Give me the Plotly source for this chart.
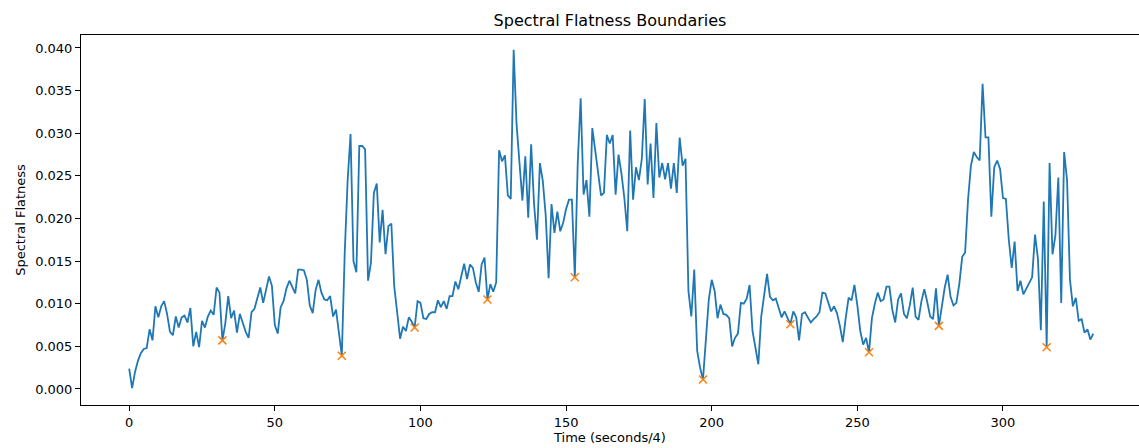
import plotly.graph_objects as go

flatness = [
    0.0024, 0.0001, 0.0020, 0.0033, 0.0042, 0.0047, 0.0048, 0.0070, 0.0057, 0.0097,
    0.0084, 0.0097, 0.0103, 0.0088, 0.0067, 0.0063, 0.0085, 0.0072, 0.0084, 0.0086,
    0.0078, 0.0095, 0.0050, 0.0067, 0.0049, 0.0080, 0.0072, 0.0085, 0.0092, 0.0087,
    0.0119, 0.0113, 0.0057, 0.0077, 0.0109, 0.0083, 0.0092, 0.0066, 0.0088, 0.0076,
    0.0067, 0.0060, 0.0090, 0.0094, 0.0108, 0.0119, 0.0101, 0.0116, 0.0132, 0.0121,
    0.0075, 0.0065, 0.0096, 0.0103, 0.0118, 0.0127, 0.0120, 0.0112, 0.0140, 0.0140,
    0.0139, 0.0128, 0.0098, 0.0089, 0.0116, 0.0128, 0.0113, 0.0105, 0.0104, 0.0109,
    0.0085, 0.0093, 0.0066, 0.0039, 0.0160, 0.0245, 0.0299, 0.0150, 0.0137, 0.0285,
    0.0285, 0.0281, 0.0127, 0.0148, 0.0230, 0.0241, 0.0172, 0.0210, 0.0158, 0.0191,
    0.0194, 0.0120, 0.0090, 0.0059, 0.0073, 0.0068, 0.0084, 0.0079, 0.0072, 0.0103,
    0.0101, 0.0083, 0.0082, 0.0088, 0.0090, 0.0090, 0.0104, 0.0096, 0.0103, 0.0094,
    0.0109, 0.0109, 0.0126, 0.0117, 0.0132, 0.0147, 0.0129, 0.0146, 0.0142, 0.0125,
    0.0114, 0.0146, 0.0154, 0.0105, 0.0123, 0.0114, 0.0125, 0.0280, 0.0267, 0.0274,
    0.0227, 0.0223, 0.0398, 0.0310, 0.0265, 0.0221, 0.0273, 0.0201, 0.0287, 0.0217,
    0.0175, 0.0265, 0.0244, 0.0204, 0.0130, 0.0217, 0.0183, 0.0208, 0.0185, 0.0195,
    0.0211, 0.0222, 0.0222, 0.0131, 0.0265, 0.0341, 0.0228, 0.0245, 0.0202, 0.0306,
    0.0280, 0.0256, 0.0227, 0.0230, 0.0298, 0.0288, 0.0298, 0.0228, 0.0275, 0.0253,
    0.0224, 0.0185, 0.0303, 0.0222, 0.0260, 0.0245, 0.0270, 0.0340, 0.0240, 0.0288,
    0.0224, 0.0312, 0.0248, 0.0265, 0.0246, 0.0265, 0.0235, 0.0265, 0.0230, 0.0295,
    0.0262, 0.0270, 0.0115, 0.0085, 0.0140, 0.0045, 0.0025, 0.0011, 0.0055, 0.0105,
    0.0128, 0.0115, 0.0083, 0.0099, 0.0088, 0.0087, 0.0083, 0.0050, 0.0060, 0.0065,
    0.0101, 0.0100, 0.0106, 0.0122, 0.0068, 0.0050, 0.0029, 0.0085, 0.0112, 0.0135,
    0.0108, 0.0104, 0.0106, 0.0095, 0.0084, 0.0091, 0.0083, 0.0076, 0.0091, 0.0084,
    0.0057, 0.0088, 0.0090, 0.0084, 0.0078, 0.0082, 0.0085, 0.0090, 0.0113, 0.0112,
    0.0102, 0.0091, 0.0097, 0.0089, 0.0074, 0.0055, 0.0083, 0.0107, 0.0104, 0.0122,
    0.0098, 0.0068, 0.0052, 0.0060, 0.0043, 0.0083, 0.0100, 0.0113, 0.0103, 0.0105,
    0.0120, 0.0120, 0.0093, 0.0078, 0.0105, 0.0112, 0.0088, 0.0083, 0.0098, 0.0119,
    0.0085, 0.0081, 0.0103, 0.0117, 0.0102, 0.0085, 0.0082, 0.0118, 0.0074, 0.0099,
    0.0119, 0.0134, 0.0108, 0.0098, 0.0101, 0.0123, 0.0155, 0.0160, 0.0222, 0.0262,
    0.0278, 0.0272, 0.0268, 0.0358, 0.0295, 0.0295, 0.0202, 0.0260, 0.0268, 0.0258,
    0.0224, 0.0223, 0.0175, 0.0142, 0.0173, 0.0115, 0.0127, 0.0111, 0.0118, 0.0125,
    0.0131, 0.0181, 0.0153, 0.0069, 0.0220, 0.0049, 0.0265, 0.0158, 0.0180, 0.0248,
    0.0101, 0.0278, 0.0245, 0.0128, 0.0097, 0.0107, 0.0080, 0.0082, 0.0066, 0.0070,
    0.0058, 0.0065,
]
time_idx = list(range(len(flatness)))
boundaries = [32, 73, 98, 123, 153, 197, 227, 254, 278, 315]
boundary_vals = [flatness[i] for i in boundaries]

x_ticks = [0, 50, 100, 150, 200, 250, 300]
y_ticks = [0.000, 0.005, 0.010, 0.015, 0.020, 0.025, 0.030, 0.035, 0.040]
y_tick_text = ["%.3f" % v for v in y_ticks]

fig = go.Figure()
fig.add_trace(go.Scatter(x=time_idx, y=flatness, mode="lines",
                         line=dict(color="#1f77b4", width=1.8), showlegend=False))
fig.add_trace(go.Scatter(x=boundaries, y=boundary_vals, mode="markers",
                         marker=dict(symbol="x-thin", size=8, color="#ff7f0e",
                                     line=dict(color="#ff7f0e", width=1.5)),
                         showlegend=False))

font = "DejaVu Sans, sans-serif"
fig.update_layout(
    width=1139, height=448,
    margin=dict(l=81, r=0, t=35, b=43),
    paper_bgcolor="white", plot_bgcolor="white",
    font=dict(family=font, size=13, color="black"),
    title=dict(text="Spectral Flatness Boundaries", x=0.5, xref="paper",
               y=1 - 20 / 448, yanchor="middle", xanchor="center",
               font=dict(size=16, color="black", family=font)),
    xaxis=dict(range=[-16.55, 346.7], tickvals=x_ticks, ticks="outside", ticklen=5,
               tickcolor="black", showgrid=False, zeroline=False,
               showline=True, linecolor="black", linewidth=1, mirror=True,
               tickfont=dict(size=13),
               title=dict(text="Time (seconds/4)", standoff=4, font=dict(size=13))),
    yaxis=dict(range=[-0.00188, 0.04152], tickvals=y_ticks, ticktext=y_tick_text,
               ticks="outside", ticklen=5, tickcolor="black", showgrid=False,
               zeroline=False, showline=True, linecolor="black", linewidth=1,
               mirror=False, tickfont=dict(size=13),
               title=dict(text="Spectral Flatness", standoff=6, font=dict(size=13))),
)
fig.write_html("out.html")
